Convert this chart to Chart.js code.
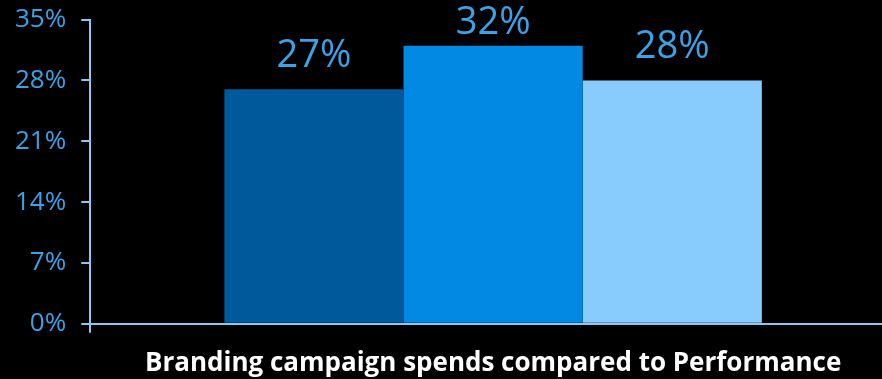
<!DOCTYPE html>
<html>
<head>
<meta charset="utf-8">
<script src="https://cdn.jsdelivr.net/npm/chart.js@4/dist/chart.umd.min.js"></script>
<style>
  html, body { margin: 0; padding: 0; background: #000; }
  #wrap { width: 882px; height: 379px; overflow: hidden; }
  #spendChart { display: block; margin-top: -11px; }
</style>
</head>
<body>
<div id="wrap"><canvas id="spendChart" width="896" height="390"></canvas></div>
<script>
// values for each campaign type, in percent
var categories = [''];
var seriesNames = ['Branding', 'Mixed', 'Performance'];
var seriesValues = [27, 32, 28];
var seriesColors = ['#00599a', '#0189e3', '#88ccfe'];
var yTicks = [0, 7, 14, 21, 28, 35];

var axisColor = '#8ec6f0';
var labelColor = '#3ba2e6';

// writes the value above each bar, kept below the top edge of the page
var valueLabels = {
  id: 'valueLabels',
  afterDatasetsDraw: function (chart) {
    var ctx = chart.ctx;
    ctx.save();
    ctx.font = '38px "Open Sans"';
    ctx.fillStyle = labelColor;
    ctx.textAlign = 'center';
    ctx.textBaseline = 'middle';
    chart.data.datasets.forEach(function (ds, i) {
      var bar = chart.getDatasetMeta(i).data[0];
      var y = Math.max(bar.y - 33, 34);
      ctx.fillText(ds.data[0] + '%', bar.x, y);
    });
    ctx.restore();
  }
};

var datasets = seriesNames.map(function (name, i) {
  return {
    label: name,
    data: [seriesValues[i]],
    backgroundColor: seriesColors[i],
    borderWidth: 0,
    barPercentage: 1,
    categoryPercentage: 0.667
  };
});

new Chart(document.getElementById('spendChart'), {
  type: 'bar',
  data: { labels: categories, datasets: datasets },
  plugins: [valueLabels],
  options: {
    responsive: false,
    animation: false,
    layout: { padding: { left: 0, top: 10, right: 0, bottom: 0 } },
    plugins: { legend: { display: false }, tooltip: { enabled: false } },
    scales: {
      x: {
        ticks: { display: false },
        grid: { drawOnChartArea: false, drawTicks: true, tickLength: 9, color: axisColor, lineWidth: 2 },
        border: { color: axisColor, width: 2 },
        title: {
          display: true,
          text: 'Branding campaign spends compared to Performance',
          color: '#ffffff',
          font: { family: 'Open Sans', size: 26, weight: 'bold' },
          padding: { top: 15, bottom: 0 }
        }
      },
      y: {
        min: 0,
        max: 35,
        afterBuildTicks: function (axis) {
          axis.ticks = yTicks.map(function (v) { return { value: v }; });
        },
        ticks: {
          color: labelColor,
          padding: 15,
          font: { family: 'Open Sans', size: 26 },
          callback: function (v) { return v + '%'; }
        },
        grid: { drawOnChartArea: false, drawTicks: true, tickLength: 9, color: axisColor, lineWidth: 2 },
        border: { color: axisColor, width: 2 }
      }
    }
  }
});
</script>
</body>
</html>
